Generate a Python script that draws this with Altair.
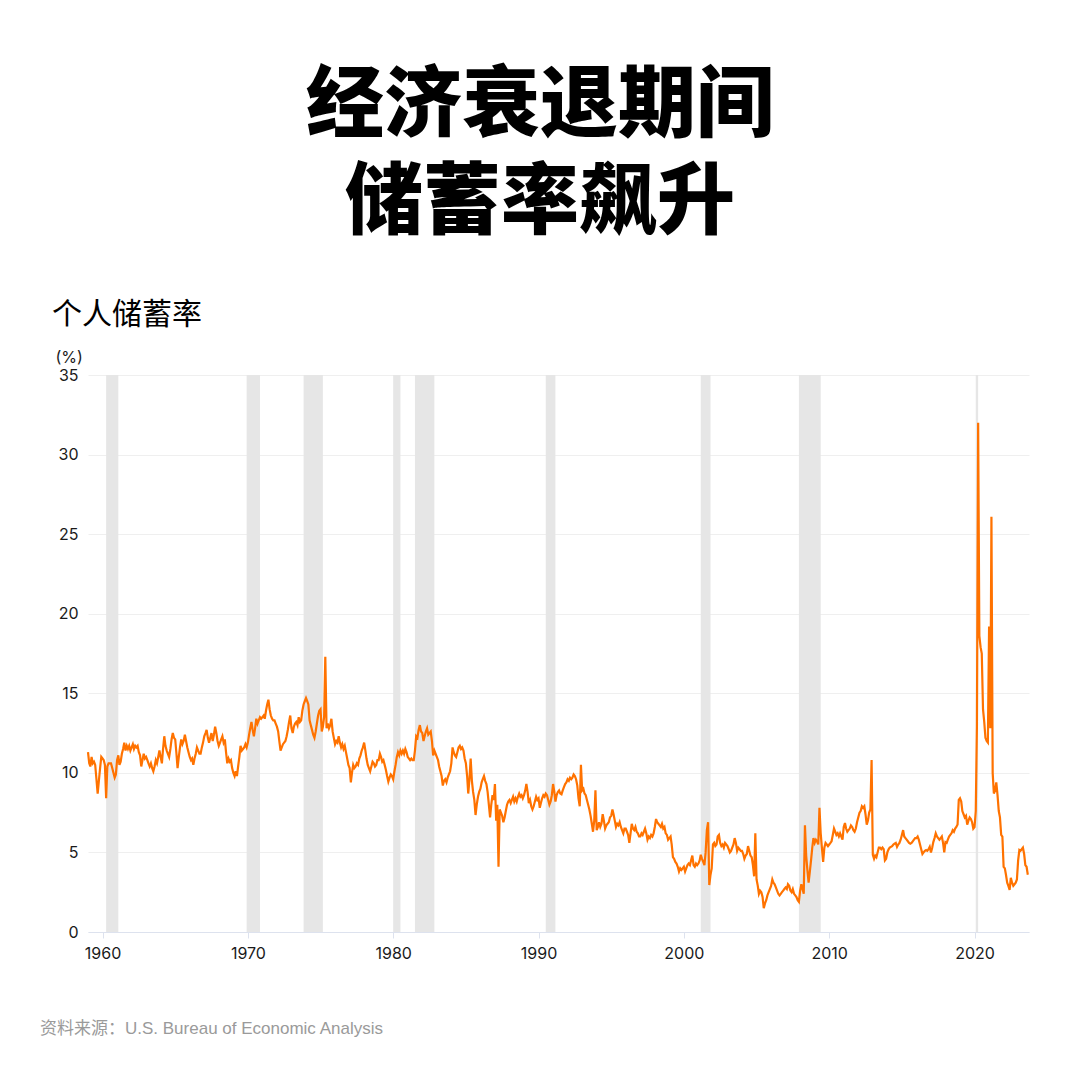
import altair as alt
import pandas as pd

# ---- Personal saving rate (%), monthly ----
rate_1959 = [11.3, 10.6, 10.4, 11.0, 10.6, 10.7, 10.5, 9.6, 8.7, 9.5, 10.3, 11.0]

rate_1960s = [
    10.9, 10.8, 10.5, 8.4, 10.4, 10.6, 10.6, 10.6, 10.3, 10.0, 9.7, 9.9,
    10.8, 11.1, 10.5, 10.7, 11.2, 11.5, 11.9, 11.4, 11.7, 11.5, 11.7, 11.4,
    11.6, 11.8, 11.5, 11.7, 11.6, 11.7, 11.3, 11.1, 10.4, 10.8, 11.2, 10.9,
    11.0, 10.8, 10.6, 10.4, 10.6, 10.3, 10.1, 10.4, 10.8, 10.6, 11.0, 11.4,
    11.0, 10.6, 11.5, 12.3, 11.7, 11.4, 11.2, 11.0, 11.5, 12.1, 12.5, 12.2,
    12.1, 11.2, 10.3, 11.0, 11.6, 12.1, 11.8, 12.0, 12.4, 12.0, 11.6, 11.3,
    11.0, 10.8, 10.9, 10.5, 10.9, 11.2, 11.6, 11.4, 11.2, 11.2, 11.6, 11.9,
    12.3, 12.5, 12.7, 12.2, 11.9, 12.2, 12.5, 12.0, 12.4, 12.9, 12.5, 12.0,
    11.7, 11.9, 12.1, 12.3, 11.9, 12.1, 11.3, 10.6, 10.9, 10.7, 10.8, 10.3,
    10.0, 9.8, 10.1, 9.8, 10.4, 11.0, 11.7, 11.4, 11.5, 11.6, 11.8, 11.6,
]

rate_1970s = [
    11.9, 12.4, 12.8, 13.2, 12.7, 12.3, 12.8, 13.4, 13.1, 13.3, 13.5, 13.4,
    13.5, 13.6, 13.4, 13.9, 14.3, 14.6, 14.0, 13.6, 13.4, 13.3, 13.3, 13.1,
    12.9, 12.6, 12.0, 11.4, 11.6, 11.8, 11.9, 12.0, 12.3, 12.7, 13.2, 13.6,
    12.8, 12.5, 12.9, 13.1, 13.2, 13.0, 13.5, 13.2, 13.3, 13.9, 14.3, 14.5,
    14.7, 14.5, 14.3, 13.3, 13.0, 12.7, 12.4, 12.2, 12.6, 13.1, 13.6, 13.9,
    14.0, 12.6, 12.9, 13.5, 17.3, 12.8, 13.1, 12.8, 13.0, 13.4, 12.6, 12.2,
    11.8, 12.0, 11.9, 12.3, 11.9, 11.6, 11.8, 11.5, 11.7, 11.3, 10.9, 10.5,
    10.3, 9.4, 10.0, 10.5, 10.3, 10.4, 10.6, 10.5, 10.9, 11.1, 11.4, 11.6,
    11.9, 11.4, 10.9, 10.5, 10.3, 10.1, 10.4, 10.7, 10.6, 10.4, 10.5, 10.8,
    10.8, 11.2, 11.0, 10.7, 10.8, 10.5, 10.2, 9.8, 9.45, 9.7, 9.9, 9.8,
]

rate_1980s = [
    9.6, 10.1, 10.5, 11.0, 11.3, 11.1, 11.4, 11.2, 11.4, 11.2, 11.5, 11.3,
    11.0, 10.9, 10.8, 10.9, 10.8, 10.8, 11.4, 12.3, 12.2, 12.7, 13.0, 12.6,
    12.5, 12.0, 12.3, 12.6, 12.8, 12.4, 12.5, 12.6, 12.0, 11.1, 11.4, 11.2,
    11.0, 10.8, 10.4, 10.1, 9.8, 9.2, 9.5, 9.6, 9.4, 9.7, 9.9, 10.1,
    10.6, 11.6, 11.3, 11.1, 11.0, 11.3, 11.6, 11.7, 11.5, 11.6, 11.4, 10.9,
    10.6, 9.8, 8.7, 9.6, 10.9, 9.5, 8.8, 8.3, 7.35, 8.0, 8.5, 8.8,
    9.0, 9.4, 9.6, 9.8, 9.5, 9.3, 8.8, 8.0, 7.2, 8.0, 8.6, 8.3,
    9.3, 7.0, 8.0, 4.1, 7.7, 7.5, 7.3, 6.9, 7.2, 7.6, 8.0, 8.2,
    8.3, 8.1, 8.3, 8.5, 8.2, 8.4, 8.2, 8.5, 8.7, 8.5, 8.6, 8.4,
    8.6, 8.9, 9.3, 8.8, 8.1, 8.3, 7.9, 7.7, 7.9, 8.2, 8.5, 8.3,
]

rate_1990s = [
    8.4, 7.8, 8.1, 8.4, 8.6, 8.5, 8.7, 8.6, 8.3, 8.0, 8.2, 8.6,
    9.3, 8.8, 8.2, 8.6, 8.8, 8.9, 8.7, 8.65, 8.9, 9.1, 9.3, 9.4,
    9.6, 9.5, 9.7, 9.6, 9.7, 9.9, 9.8, 9.6, 9.2, 8.4, 7.9, 10.5,
    8.9, 9.0, 8.7, 8.6, 8.3, 8.0, 7.7, 7.3, 6.8, 6.3, 7.0, 8.9,
    6.4, 6.6, 6.9, 6.6, 6.8, 7.4, 7.0, 6.5, 6.7, 6.8, 6.9, 7.2,
    7.3, 7.7, 7.4, 7.0, 6.6, 6.8, 6.7, 6.9, 6.6, 6.4, 6.2, 6.5,
    6.5, 6.3, 6.1, 5.6, 6.2, 6.8, 6.5, 6.4, 6.6, 6.3, 6.2, 6.0,
    6.0, 6.2, 6.1, 6.3, 6.5, 6.2, 5.8, 6.0, 5.9, 6.1, 6.0, 6.2,
    6.6, 7.1, 6.9, 6.8, 6.7, 6.6, 6.8, 6.5, 6.6, 6.2, 6.1, 5.8,
    5.9, 6.0, 5.5, 4.7, 4.6, 4.4, 4.3, 4.1, 3.8, 4.0, 3.9, 4.0,
]

rate_2000s = [
    4.1, 3.8, 4.0, 4.2, 4.3, 4.2, 4.5, 4.8, 4.2, 4.1, 4.3, 4.2,
    4.3, 4.5, 4.85, 4.6, 4.4, 4.2, 5.0, 6.4, 6.9, 2.95, 3.6, 4.0,
    5.5, 5.6, 5.4, 5.5, 6.0, 6.1, 5.6, 5.4, 5.5, 5.3, 5.6, 5.5,
    5.4, 5.2, 5.0, 5.1, 5.3, 5.5, 5.9, 5.6, 5.1, 5.3, 5.2, 5.1,
    5.1, 4.9, 4.6, 4.8, 4.9, 5.4, 5.1, 4.8, 4.7, 4.2, 3.5, 6.2,
    3.3, 2.9, 2.4, 2.6, 2.5, 2.2, 1.5, 1.8, 2.0, 2.3, 2.5, 2.7,
    2.9, 3.3, 3.1, 3.0, 2.8, 2.6, 2.4, 2.3, 2.4, 2.5, 2.6, 2.7,
    2.8, 2.7, 3.0, 2.9, 2.6, 2.5, 2.7, 2.4, 2.3, 2.2, 2.0, 1.9,
    2.6, 3.0, 2.7, 2.4, 6.7, 4.8, 3.9, 3.1, 3.8, 4.5, 5.3, 5.9,
    5.6, 5.8, 5.7, 5.5, 7.8, 6.2, 5.3, 4.4, 5.3, 5.6, 5.5, 5.4,
]

rate_2010s = [
    5.5, 5.6, 5.7, 6.1, 6.5, 6.3, 6.1, 6.2, 6.0, 6.2, 6.0, 5.8,
    6.6, 6.85, 6.5, 6.3, 6.4, 6.5, 6.7, 6.6, 6.4, 6.3, 6.5, 6.9,
    7.2, 7.5, 7.6, 7.9, 7.8, 7.9, 7.4, 6.75, 7.0, 7.5, 7.7, 10.8,
    4.85, 4.6, 4.8, 4.7, 5.0, 5.3, 5.3, 5.2, 5.3, 5.2, 4.5, 4.6,
    5.0, 5.2, 5.3, 5.35, 5.4, 5.5, 5.55, 5.6, 5.35, 5.5, 5.6, 5.8,
    6.1, 6.4, 6.0, 5.9, 5.8, 5.7, 5.6, 5.55, 5.6, 5.7, 5.8, 5.9,
    5.9, 6.0, 5.8, 5.5, 5.2, 4.9, 5.0, 5.1, 5.15, 5.1, 5.2, 5.35,
    5.0, 5.3, 5.65, 5.9, 6.2, 6.0, 5.9, 5.8, 5.9, 6.0, 5.6, 5.0,
    5.65, 5.6, 5.8, 6.0, 6.1, 6.2, 6.4, 6.3, 6.5, 6.6, 6.75, 8.3,
    8.4, 8.2, 7.6, 7.4, 7.2, 7.3, 6.75, 7.0, 7.2, 7.1, 6.9, 6.5,
]

rate_2020s = [
    6.6, 7.6, 12.9, 32.0, 18.6, 17.9, 17.5, 14.0, 13.2, 12.2, 12.0, 11.9,
    19.2, 12.8, 26.1, 10.0, 8.7, 8.9, 9.4, 8.6, 7.6, 7.2, 6.1, 6.0,
    4.1, 4.0, 3.6, 3.1, 2.9, 2.65, 3.4, 3.1, 2.9, 3.0, 3.1, 3.3,
    4.5, 5.15, 5.1, 5.2, 5.3, 4.9, 4.2, 4.1, 3.6,
]

# ---- NBER recessions (peak month, trough month) ----
recession_start = ["1960-04-01", "1969-12-01", "1973-11-01", "1980-01-01", "1981-07-01",
                   "1990-07-01", "2001-03-01", "2007-12-01", "2020-02-01"]
recession_end = ["1961-02-01", "1970-11-01", "1975-03-01", "1980-07-01", "1982-11-01",
                 "1991-03-01", "2001-11-01", "2009-06-01", "2020-04-01"]

# ---- Texts ----
title_lines = ["经济衰退期间", "储蓄率飙升"]
subtitle = "个人储蓄率"
unit = "(%)"
source = "资料来源：U.S. Bureau of Economic Analysis"
year_ticks = [1960, 1970, 1980, 1990, 2000, 2010, 2020]
y_ticks = [0, 5, 10, 15, 20, 25, 30, 35]

rate = rate_1959 + rate_1960s + rate_1970s + rate_1980s + rate_1990s + rate_2000s + rate_2010s + rate_2020s
df = pd.DataFrame({"date": pd.date_range("1959-01-01", periods=len(rate), freq="MS"), "rate": rate})
bands = pd.DataFrame({"start": pd.to_datetime(recession_start), "end": pd.to_datetime(recession_end)})

W, H = 941, 557
CJK = "Noto Sans CJK SC"
NUM = "Inter"

x_scale = alt.Scale(domain=[alt.DateTime(year=1959, month=1, date=1),
                            alt.DateTime(year=2023, month=10, date=1)])
y_scale = alt.Scale(domain=[0, 35], nice=False)

x_axis = alt.Axis(
    values=[alt.DateTime(year=y, month=1, date=1) for y in year_ticks],
    format="%Y", title=None, grid=False,
    domainColor="#dde2ee", tickColor="#dde2ee", tickSize=6,
    labelFontSize=16, labelColor="#1a1a1a", labelPadding=7, labelFont=NUM,
)
y_axis = alt.Axis(
    values=y_ticks, title=unit, titleAngle=0, titleX=-33, titleY=-18,
    titleAlign="left", titleBaseline="middle", titleFontSize=16,
    titleFontWeight="normal", titleColor="#1a1a1a", titleFont=NUM,
    domain=False, ticks=False, labelPadding=10, labelFontSize=16,
    labelColor="#1a1a1a", labelFont=NUM, gridColor="#efefef", gridWidth=1,
)

band_layer = alt.Chart(bands).mark_rect(color="#e6e6e6").encode(
    x=alt.X("start:T", scale=x_scale, axis=x_axis),
    x2="end:T",
)

line_layer = alt.Chart(df).mark_line(color="#ff7200", strokeWidth=2.2).encode(
    x=alt.X("date:T", scale=x_scale, axis=x_axis),
    y=alt.Y("rate:Q", scale=y_scale, axis=y_axis),
)


def text_layer(text, x, y, size, weight="normal", color="#000000", align="left", font=CJK):
    return alt.Chart(pd.DataFrame({"t": [text]})).mark_text(
        align=align, baseline="middle", fontSize=size, fontWeight=weight,
        color=color, font=font,
    ).encode(text="t:N", x=alt.value(x), y=alt.value(y))


layers = [
    band_layer,
    line_layer,
    text_layer(title_lines[0], 452, -267, 78, weight=900, align="center"),
    text_layer(title_lines[1], 452, -170, 78, weight=900, align="center"),
    text_layer(subtitle, -36, -60, 30),
    text_layer(source, -48, 654, 17, color="#9a9a9a", font="Liberation Sans, Noto Sans CJK SC"),
]

chart = alt.layer(*layers).properties(
    width=W, height=H,
    padding={"left": 80, "top": 367, "right": 43, "bottom": 140},
    autosize=alt.AutoSizeParams(type="none"),
    background="white",
).configure_view(stroke=None)

chart.save("out.html", embed_options={"renderer": "svg", "actions": False})
